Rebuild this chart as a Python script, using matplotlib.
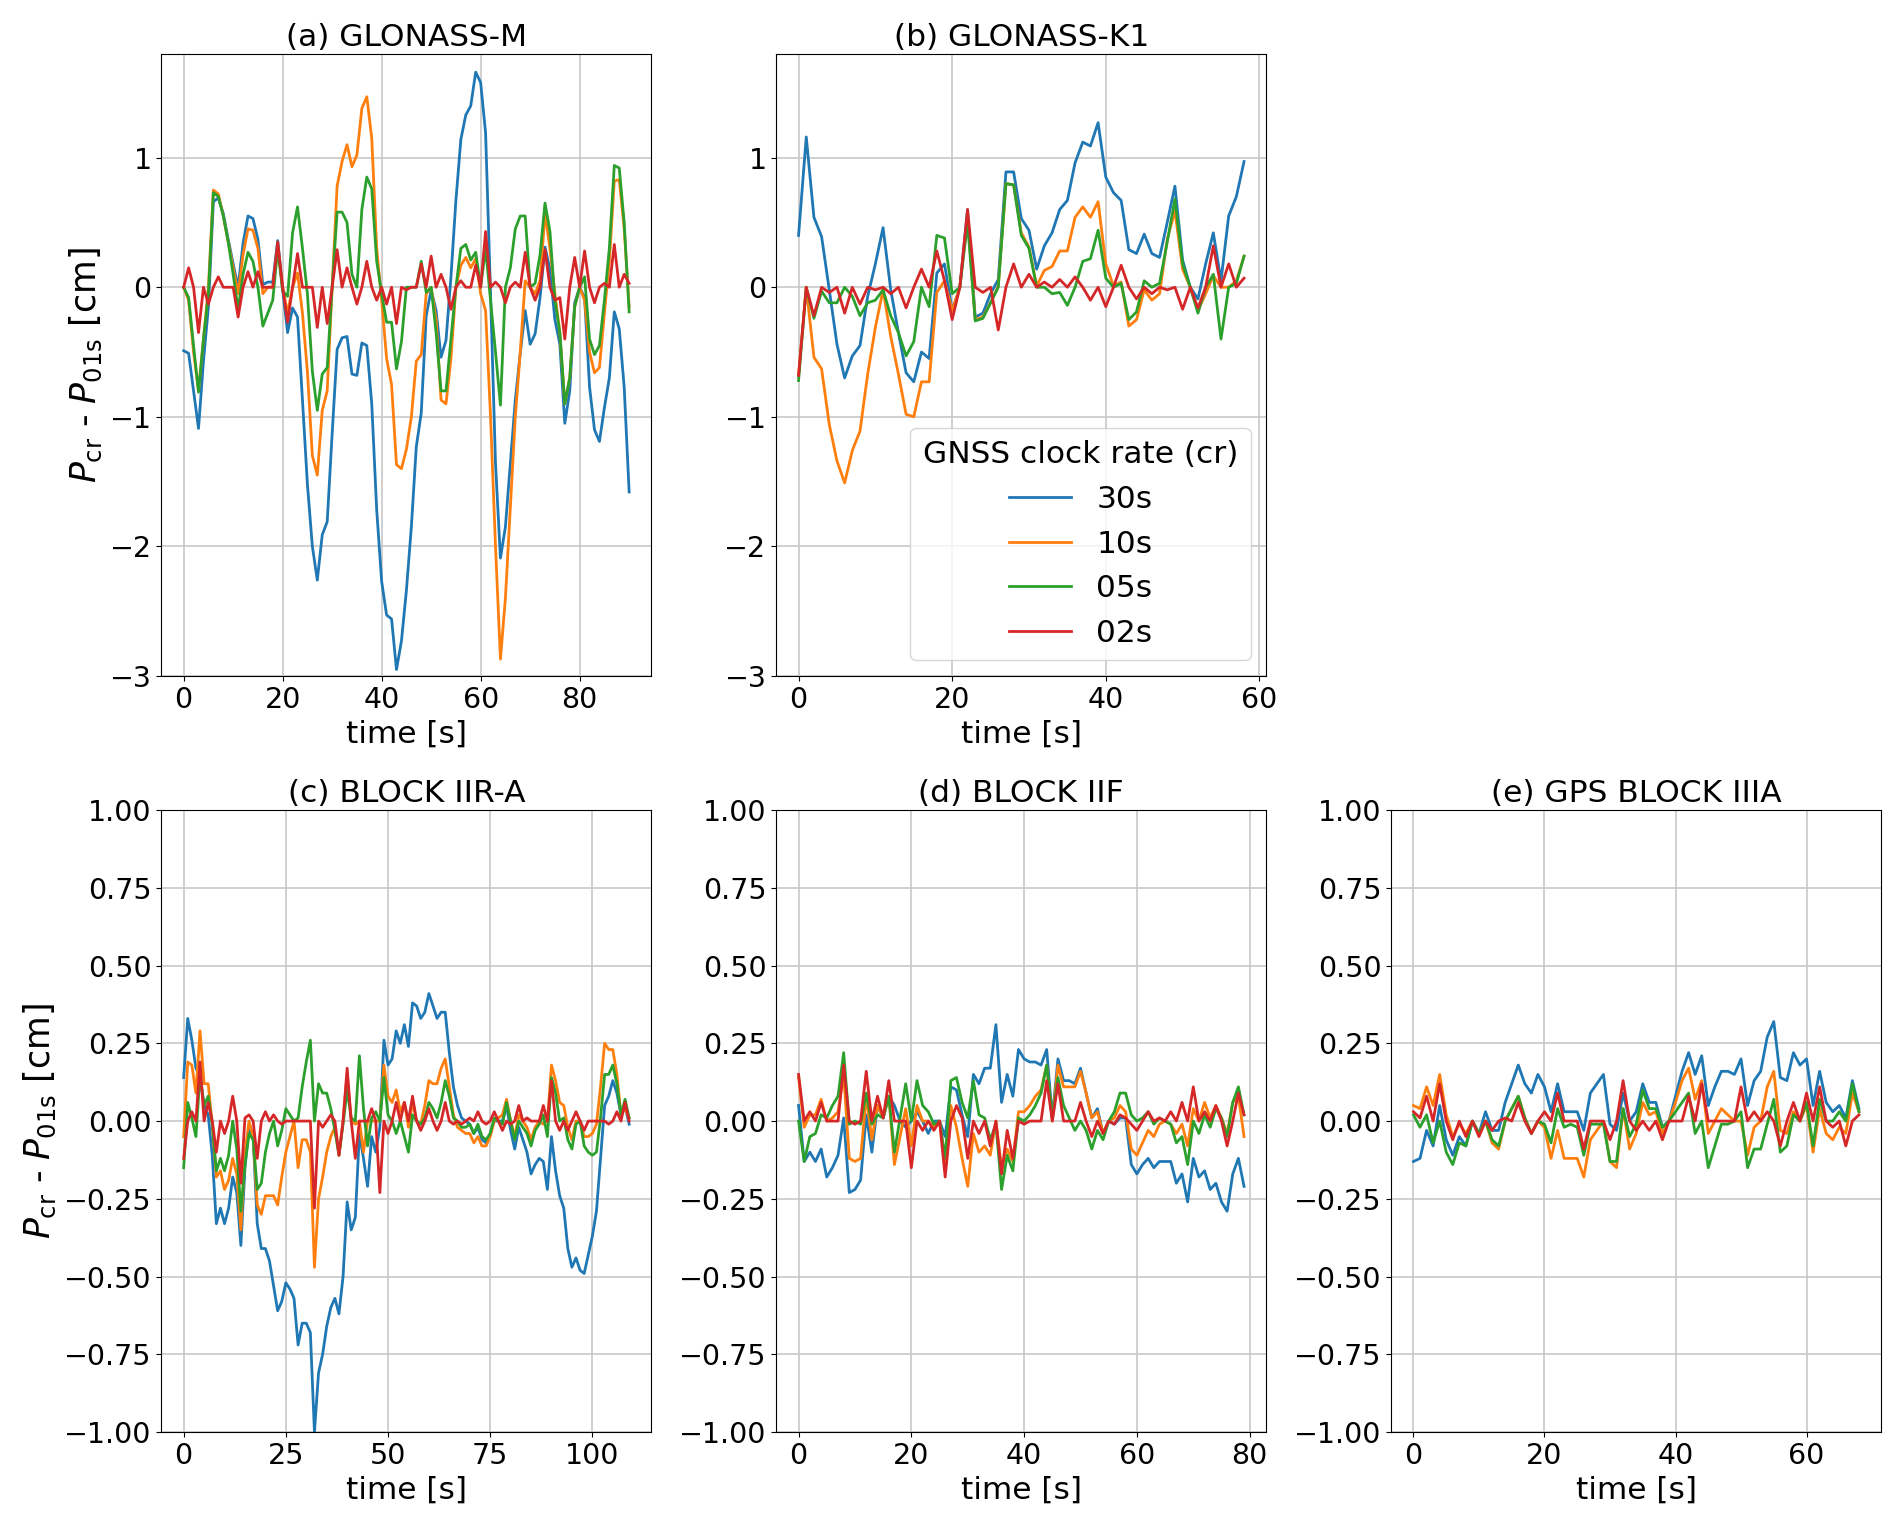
import numpy as np
import matplotlib
matplotlib.use("Agg")
import matplotlib.pyplot as plt
from matplotlib.ticker import MultipleLocator

# Legend labels (GNSS clock rate)
rates = ['30s', '10s', '05s', '02s']

# (a) GLONASS-M, 1 s steps
a_30s = [-0.49, -0.51, -0.80, -1.09, -0.57, -0.15, 0.66, 0.69, 0.57, 0.37, 0.18, 0.0, 0.34, 0.55, 0.53, 0.37,
         0.02, 0.04, 0.04, 0.36, -0.02, -0.35, -0.16, -0.23, -0.87, -1.52, -2.0, -2.26, -1.91, -1.81, -1.13,
         -0.48, -0.39, -0.38, -0.67, -0.68, -0.43, -0.45, -0.9, -1.72, -2.27, -2.53, -2.56, -2.95, -2.73, -2.34,
         -1.85, -1.23, -0.97, -0.22, -0.02, -0.18, -0.54, -0.41, 0.08, 0.67, 1.14, 1.33, 1.4, 1.66, 1.58, 1.19,
         -0.05, -1.36, -2.09, -1.85, -1.36, -0.87, -0.51, -0.18, -0.44, -0.36, -0.08, 0.31, 0.14, -0.25, -0.44,
         -1.05, -0.8, -0.12, 0.0, -0.08, -0.77, -1.1, -1.19, -0.93, -0.7, -0.19, -0.32, -0.77, -1.58]
a_10s = [0.0, -0.1, -0.5, -0.8, -0.4, 0.0, 0.75, 0.72, 0.55, 0.35, 0.15, -0.05, 0.25, 0.45, 0.44, 0.3, -0.05,
         0.0, 0.0, 0.3, 0.0, -0.2, 0.0, 0.11, -0.2, -0.65, -1.3, -1.45, -0.95, -0.8, 0.0, 0.78, 0.97, 1.1, 0.93,
         1.02, 1.38, 1.47, 1.15, 0.3, -0.1, -0.55, -0.75, -1.37, -1.4, -1.25, -1.0, -0.57, -0.52, -0.05, 0.0,
         -0.25, -0.87, -0.9, -0.55, 0.0, 0.17, 0.23, 0.15, 0.22, -0.05, -0.18, -1.0, -2.0, -2.87, -2.4, -1.7,
         -1.0, -0.5, 0.05, 0.0, -0.05, 0.05, 0.57, 0.3, -0.05, -0.35, -0.9, -0.7, -0.15, 0.0, -0.1, -0.5, -0.66,
         -0.62, -0.2, 0.2, 0.82, 0.83, 0.45, -0.15]
a_05s = [0.0, -0.08, -0.45, -0.81, -0.4, -0.05, 0.73, 0.7, 0.55, 0.35, 0.1, -0.17, 0.1, 0.27, 0.2, 0.0, -0.3,
         -0.2, -0.1, 0.3, -0.03, -0.07, 0.42, 0.62, 0.3, -0.05, -0.65, -0.95, -0.67, -0.62, 0.0, 0.58, 0.58,
         0.5, 0.1, 0.0, 0.6, 0.85, 0.76, 0.2, -0.05, -0.27, -0.27, -0.63, -0.42, 0.0, 0.0, 0.0, 0.2, -0.04, 0.0,
         -0.35, -0.8, -0.8, -0.4, 0.0, 0.3, 0.33, 0.21, 0.27, 0.0, 0.3, -0.1, -0.5, -0.91, 0.0, 0.15, 0.45,
         0.55, 0.55, 0.0, 0.03, 0.25, 0.65, 0.43, -0.1, -0.35, -0.9, -0.7, -0.15, 0.0, 0.08, -0.4, -0.52, -0.45,
         -0.1, 0.3, 0.94, 0.92, 0.5, -0.19]
a_02s = [0.0, 0.15, 0.0, -0.35, 0.0, -0.13, 0.0, 0.08, 0.0, 0.0, 0.0, -0.23, 0.0, 0.12, 0.0, 0.12, 0.0, 0.0,
         0.0, 0.35, 0.0, -0.27, 0.0, 0.26, 0.0, 0.0, 0.0, -0.31, 0.0, -0.28, 0.0, 0.29, 0.0, 0.15, 0.0, -0.13,
         0.0, 0.2, 0.0, -0.1, 0.0, -0.13, 0.0, -0.28, 0.0, -0.02, 0.0, 0.0, 0.18, 0.0, 0.24, 0.0, 0.1, 0.0,
         -0.17, 0.0, 0.05, 0.0, 0.0, 0.17, 0.0, 0.43, 0.0, 0.04, 0.0, -0.12, 0.0, 0.04, 0.0, 0.27, 0.0, -0.1,
         0.0, 0.29, 0.0, -0.1, -0.08, -0.4, 0.0, 0.23, 0.0, 0.28, 0.0, -0.12, 0.0, 0.03, 0.0, 0.33, 0.0, 0.1,
         0.03]

# (b) GLONASS-K1
b_30s = [0.4, 1.16, 0.54, 0.39, -0.02, -0.44, -0.7, -0.53, -0.45, -0.07, 0.18, 0.46, -0.02, -0.35, -0.66,
         -0.73, -0.5, -0.55, 0.11, 0.18, -0.18, 0.0, 0.6, -0.23, -0.2, -0.05, 0.06, 0.89, 0.89, 0.53, 0.44,
         0.14, 0.32, 0.42, 0.6, 0.67, 0.96, 1.12, 1.09, 1.27, 0.85, 0.73, 0.67, 0.29, 0.26, 0.41, 0.26, 0.23,
         0.5, 0.78, 0.21, 0.0, -0.09, 0.18, 0.42, 0.05, 0.55, 0.7, 0.97]
b_10s = [-0.68, 0.0, -0.54, -0.63, -1.06, -1.34, -1.51, -1.26, -1.11, -0.67, -0.31, -0.02, -0.38, -0.67,
         -0.98, -1.0, -0.73, -0.73, -0.04, 0.05, -0.18, 0.0, 0.54, -0.25, -0.23, -0.12, 0.01, 0.8, 0.79, 0.42,
         0.31, 0.01, 0.13, 0.16, 0.28, 0.28, 0.54, 0.62, 0.54, 0.66, 0.18, 0.01, 0.04, -0.3, -0.25, -0.02,
         -0.1, -0.05, 0.37, 0.59, 0.14, 0.0, -0.18, -0.05, 0.09, 0.0, 0.0, 0.05, 0.24]
b_05s = [-0.72, 0.0, -0.24, -0.03, -0.12, -0.12, 0.0, -0.07, -0.22, -0.12, -0.1, -0.02, -0.22, -0.35, -0.53,
         -0.42, 0.0, -0.15, 0.4, 0.38, -0.05, 0.0, 0.5, -0.26, -0.24, -0.12, 0.0, 0.8, 0.79, 0.4, 0.3, 0.0,
         0.0, -0.05, -0.04, -0.14, 0.0, 0.2, 0.22, 0.44, 0.07, 0.0, 0.03, -0.25, -0.19, 0.05, 0.0, 0.03, 0.35,
         0.68, 0.18, 0.0, -0.2, 0.0, 0.1, -0.4, 0.0, 0.03, 0.24]
b_02s = [-0.68, 0.0, -0.22, 0.0, -0.04, 0.0, -0.2, 0.0, -0.13, 0.0, -0.02, 0.0, -0.05, 0.0, -0.16, 0.0, 0.14,
         0.0, 0.28, 0.05, -0.25, 0.0, 0.6, 0.0, -0.04, 0.0, -0.33, 0.0, 0.18, 0.0, 0.1, 0.0, 0.04, 0.0, 0.06,
         0.0, 0.08, 0.0, -0.1, 0.0, -0.15, 0.0, 0.17, 0.0, -0.09, 0.0, -0.05, 0.0, -0.02, 0.0, -0.17, 0.0,
         -0.16, 0.0, 0.32, 0.0, 0.18, 0.0, 0.07]

# (c) BLOCK IIR-A
c_30s = [0.14, 0.33, 0.26, 0.17, 0.14, 0.05, 0.02, -0.11, -0.33, -0.28, -0.33, -0.28, -0.18, -0.23, -0.4,
         -0.15, -0.02, -0.05, -0.33, -0.41, -0.41, -0.45, -0.53, -0.61, -0.58, -0.52, -0.54, -0.57, -0.72,
         -0.65, -0.65, -0.68, -1.0, -0.81, -0.75, -0.66, -0.6, -0.57, -0.62, -0.5, -0.26, -0.35, -0.31, -0.04,
         -0.12, -0.21, -0.05, -0.1, -0.02, 0.26, 0.18, 0.2, 0.29, 0.25, 0.31, 0.24, 0.38, 0.37, 0.33, 0.35,
         0.41, 0.37, 0.33, 0.35, 0.35, 0.22, 0.11, 0.05, 0.01, 0.0, -0.01, -0.04, -0.02, -0.06, -0.07, -0.04,
         0.0, 0.0, 0.0, 0.05, -0.03, -0.09, -0.02, -0.06, -0.1, -0.17, -0.14, -0.12, -0.13, -0.22, -0.05,
         -0.16, -0.24, -0.28, -0.41, -0.47, -0.44, -0.48, -0.49, -0.43, -0.37, -0.29, -0.12, 0.05, 0.08, 0.13,
         0.09, 0.02, 0.05, -0.01]
c_10s = [-0.05, 0.19, 0.18, 0.09, 0.29, 0.12, 0.12, -0.01, -0.18, -0.16, -0.22, -0.19, -0.12, -0.17, -0.35,
         -0.1, 0.0, -0.05, -0.27, -0.3, -0.24, -0.24, -0.24, -0.27, -0.18, -0.1, -0.05, 0.0, -0.15, -0.06,
         -0.06, -0.1, -0.47, -0.25, -0.18, -0.1, -0.05, -0.02, -0.11, 0.0, 0.15, 0.0, -0.01, 0.0, -0.1, 0.0,
         0.0, 0.0, 0.0, 0.18, 0.08, 0.06, 0.1, 0.03, 0.06, -0.02, 0.06, 0.0, -0.01, 0.05, 0.13, 0.12, 0.12,
         0.17, 0.2, 0.11, 0.02, -0.02, -0.03, -0.04, -0.04, -0.07, -0.05, -0.08, -0.08, -0.05, 0.0, 0.01, 0.02,
         0.07, 0.0, -0.05, 0.02, 0.0, -0.02, -0.06, -0.02, 0.0, -0.01, 0.0, 0.18, 0.13, 0.06, 0.05, -0.02,
         -0.06, 0.0, 0.0, -0.05, -0.05, -0.04, -0.01, 0.11, 0.25, 0.23, 0.23, 0.15, 0.02, 0.04, 0.01]
c_05s = [-0.15, 0.06, 0.01, -0.05, 0.15, 0.05, 0.08, -0.01, -0.16, -0.12, -0.16, -0.11, 0.0, -0.09, -0.29,
         -0.14, -0.04, -0.06, -0.22, -0.2, -0.1, -0.04, 0.0, -0.08, -0.03, 0.04, 0.02, 0.0, 0.01, 0.11, 0.19,
         0.26, 0.0, 0.12, 0.09, 0.09, 0.04, -0.03, -0.11, -0.01, 0.1, 0.01, 0.0, 0.21, 0.04, -0.08, 0.01, 0.03,
         0.0, 0.14, 0.02, 0.0, -0.04, 0.0, -0.05, -0.1, 0.02, 0.0, -0.01, 0.01, 0.06, 0.04, 0.01, 0.06, 0.13,
         0.08, 0.01, 0.0, -0.02, -0.02, -0.01, -0.04, -0.01, -0.05, -0.06, -0.04, 0.01, 0.0, -0.01, 0.06, 0.0,
         -0.06, 0.0, -0.02, -0.04, -0.08, -0.03, -0.01, 0.02, -0.05, 0.14, 0.09, 0.0, 0.01, -0.06, -0.09,
         -0.01, 0.0, -0.08, -0.1, -0.11, -0.1, 0.01, 0.15, 0.15, 0.18, 0.12, 0.02, 0.07, 0.01]
c_02s = [-0.12, 0.0, 0.03, 0.0, 0.19, 0.0, 0.06, 0.0, -0.1, 0.0, -0.04, 0.0, 0.08, 0.0, -0.2, 0.01, 0.02,
         0.0, -0.12, 0.0, 0.03, 0.0, 0.02, 0.0, -0.01, 0.0, 0.0, 0.0, 0.0, 0.0, 0.0, 0.0, -0.28, 0.0, -0.02,
         0.0, 0.02, 0.0, -0.11, 0.0, 0.17, 0.0, -0.12, 0.0, 0.0, 0.0, 0.04, 0.0, -0.23, 0.0, -0.04, 0.0, 0.06,
         0.0, 0.06, 0.0, 0.08, 0.0, -0.03, 0.0, 0.04, 0.0, -0.03, 0.0, 0.06, 0.0, -0.01, 0.0, -0.01, 0.0,
         0.01, 0.0, 0.03, 0.0, -0.01, 0.0, 0.03, 0.0, -0.03, 0.0, -0.01, 0.0, 0.05, 0.0, 0.01, 0.0, 0.0, 0.0,
         0.05, 0.0, 0.13, 0.0, -0.03, 0.0, -0.03, 0.0, 0.03, 0.0, -0.03, 0.0, 0.0, 0.0, 0.0, 0.0, -0.01, 0.0,
         0.03, 0.0, 0.06, 0.0]

# (d) BLOCK IIF
d_30s = [0.05, -0.13, -0.1, -0.13, -0.09, -0.18, -0.15, -0.11, 0.01, -0.23, -0.22, -0.19, 0.02, -0.1, 0.05,
         0.01, 0.08, 0.05, 0.0, -0.02, 0.0, 0.03, 0.0, -0.04, 0.0, 0.0, -0.05, 0.11, 0.1, 0.02, -0.05, 0.15,
         0.12, 0.17, 0.17, 0.31, 0.06, 0.15, 0.08, 0.23, 0.2, 0.19, 0.19, 0.18, 0.23, 0.01, 0.2, 0.13, 0.13,
         0.12, 0.17, 0.09, 0.01, 0.04, -0.04, 0.0, -0.01, 0.01, 0.01, -0.14, -0.17, -0.14, -0.12, -0.15,
         -0.13, -0.13, -0.13, -0.2, -0.17, -0.26, -0.12, -0.18, -0.16, -0.22, -0.2, -0.26, -0.29, -0.17,
         -0.12, -0.21]
d_10s = [0.14, -0.02, 0.02, 0.02, 0.07, 0.0, 0.01, 0.03, 0.15, -0.12, -0.13, -0.12, 0.08, -0.06, 0.05, 0.01,
         0.08, -0.14, -0.05, 0.04, -0.08, 0.05, 0.0, 0.0, -0.02, 0.0, -0.13, 0.05, -0.02, -0.12, -0.21, -0.04,
         -0.1, -0.08, -0.11, 0.0, -0.15, -0.09, -0.13, 0.03, 0.03, 0.05, 0.08, 0.1, 0.18, 0.0, 0.18, 0.11, 0.11,
         0.11, 0.16, 0.09, 0.01, 0.03, -0.04, 0.0, 0.01, 0.05, 0.03, -0.09, -0.11, -0.07, -0.03, -0.05, -0.01,
         0.0, -0.01, -0.04, -0.01, -0.08, 0.04, 0.0, 0.06, 0.01, 0.05, 0.01, -0.04, 0.06, 0.08, -0.05]
d_05s = [0.0, -0.13, -0.05, -0.04, 0.02, 0.01, 0.05, 0.08, 0.22, -0.01, 0.0, -0.01, 0.09, -0.01, 0.02, 0.01,
         0.08, -0.1, 0.01, 0.12, 0.0, 0.13, 0.05, 0.03, -0.01, 0.0, -0.12, 0.13, 0.14, 0.06, 0.01, 0.13, 0.02,
         0.01, -0.06, -0.01, -0.22, -0.11, -0.16, 0.01, 0.0, 0.02, 0.05, 0.09, 0.18, 0.01, 0.14, 0.05, 0.01,
         -0.03, 0.0, -0.03, -0.09, -0.03, -0.06, 0.0, 0.03, 0.09, 0.09, 0.02, 0.0, 0.01, 0.03, -0.01, 0.01, 0.0,
         -0.01, -0.07, -0.05, -0.14, 0.0, -0.04, 0.02, -0.02, 0.04, 0.01, -0.05, 0.06, 0.11, 0.02]
d_02s = [0.15, 0.0, 0.03, 0.0, 0.06, 0.0, 0.0, 0.0, 0.18, 0.0, -0.01, 0.0, 0.16, 0.0, 0.08, 0.01, 0.13, 0.0,
         0.0, 0.0, -0.15, 0.0, -0.03, 0.0, -0.03, 0.0, -0.18, 0.0, 0.05, 0.01, -0.12, 0.0, -0.04, 0.0, -0.08,
         0.0, -0.17, -0.03, -0.12, 0.0, -0.01, 0.0, 0.0, 0.0, 0.13, 0.0, 0.12, 0.0, 0.0, 0.0, 0.06, 0.0, -0.05,
         0.0, -0.04, 0.0, -0.01, 0.02, 0.01, -0.01, -0.03, 0.0, 0.03, 0.0, 0.01, 0.0, 0.03, 0.0, 0.06, 0.0,
         0.11, 0.0, 0.03, 0.0, 0.05, 0.0, -0.08, 0.0, 0.09, 0.02]

# (e) GPS BLOCK IIIA
e_30s = [-0.13, -0.12, -0.03, -0.08, 0.05, -0.06, -0.11, -0.05, -0.08, 0.0, -0.04, 0.03, -0.03, -0.03, 0.06,
         0.12, 0.18, 0.12, 0.09, 0.15, 0.11, 0.03, 0.12, 0.03, 0.03, 0.03, -0.03, 0.09, 0.12, 0.15, -0.01,
         -0.03, 0.09, 0.0, 0.03, 0.12, 0.06, 0.06, -0.02, 0.0, 0.08, 0.16, 0.22, 0.15, 0.21, 0.05, 0.11, 0.16,
         0.16, 0.15, 0.2, 0.05, 0.13, 0.16, 0.27, 0.32, 0.14, 0.13, 0.22, 0.18, 0.2, 0.05, 0.16, 0.06, 0.03,
         0.05, 0.01, 0.13, 0.04]
e_10s = [0.05, 0.04, 0.11, 0.05, 0.15, 0.02, -0.05, -0.01, -0.04, 0.0, -0.04, 0.0, -0.07, -0.09, 0.0, 0.04,
         0.08, 0.01, -0.04, 0.0, -0.02, -0.12, -0.03, -0.12, -0.12, -0.12, -0.18, -0.06, -0.03, 0.0, -0.13,
         -0.15, 0.04, -0.09, -0.04, 0.06, 0.02, 0.03, -0.04, 0.0, 0.06, 0.13, 0.17, 0.07, 0.13, -0.04, 0.0,
         0.04, 0.02, 0.0, 0.0, -0.11, -0.02, 0.0, 0.11, 0.16, -0.03, -0.04, 0.03, 0.0, 0.05, -0.1, 0.04, -0.04,
         -0.06, -0.02, -0.04, 0.09, 0.03]
e_05s = [0.02, -0.02, 0.02, -0.07, 0.0, -0.1, -0.14, -0.07, -0.08, 0.0, -0.04, 0.0, -0.06, -0.08, 0.0, 0.04,
         0.08, 0.01, -0.04, 0.0, -0.01, -0.07, 0.04, -0.02, -0.01, -0.02, -0.11, -0.01, -0.01, -0.01, -0.13,
         -0.13, 0.04, -0.05, -0.01, 0.1, 0.04, 0.04, -0.02, 0.0, 0.03, 0.06, 0.09, -0.04, 0.0, -0.15, -0.08,
         -0.01, -0.01, 0.0, 0.03, -0.15, -0.09, -0.09, -0.01, 0.07, -0.1, -0.08, 0.02, 0.0, 0.06, -0.08, 0.07,
         0.0, 0.0, 0.03, 0.0, 0.12, 0.03]
e_02s = [0.03, 0.01, 0.08, 0.0, 0.12, 0.0, -0.06, 0.0, -0.05, 0.0, -0.05, 0.0, -0.03, 0.0, 0.01, 0.0, 0.06,
         0.0, -0.04, 0.0, 0.03, 0.0, 0.09, 0.0, 0.0, 0.0, -0.09, 0.0, 0.0, 0.0, -0.06, 0.0, 0.13, 0.0, -0.03,
         0.0, -0.03, 0.0, -0.06, 0.0, 0.0, 0.0, 0.08, 0.0, 0.12, 0.0, 0.0, 0.0, 0.0, 0.0, 0.11, 0.0, 0.03,
         0.0, 0.03, 0.0, -0.08, 0.0, 0.06, 0.0, 0.09, 0.0, 0.11, 0.0, -0.02, 0.0, -0.08, 0.0, 0.02]

panels = [
    ('(a) GLONASS-M', [a_30s, a_10s, a_05s, a_02s]),
    ('(b) GLONASS-K1', [b_30s, b_10s, b_05s, b_02s]),
    ('(c) BLOCK IIR-A', [c_30s, c_10s, c_05s, c_02s]),
    ('(d) BLOCK IIF', [d_30s, d_10s, d_05s, d_02s]),
    ('(e) GPS BLOCK IIIA', [e_30s, e_10s, e_05s, e_02s]),
]

fig = plt.figure(figsize=(18.92, 15.17), dpi=100)
w = 0.259
h = 0.41
pos = [
    [0.0853, 0.5544, w, h],
    [0.4103, 0.5544, w, h],
    [0.0853, 0.056, w, h],
    [0.4103, 0.056, w, h],
    [0.7353, 0.056, w, h],
]

ylabel = r'$P_{\rm cr}$ - $P_{\rm 01s}$ [cm]'

for k, (title, series) in enumerate(panels):
    ax = fig.add_axes(pos[k])
    for s, lab in zip(series, rates):
        ax.plot(np.arange(len(s)), s, linewidth=2.0, label=lab)
    ax.set_title(title, fontsize=22.5)
    ax.set_xlabel('time [s]', fontsize=22.5)
    ax.grid(True, color='#c8c8c8', linewidth=1.2)
    ax.tick_params(labelsize=20.5)
    if k < 2:
        ax.set_ylim(-3, 1.8)
        ax.set_yticks([-3, -2, -1, 0, 1])
    else:
        ax.set_ylim(-1, 1)
    if k == 2:
        ax.xaxis.set_major_locator(MultipleLocator(25))
    if k in (0, 2):
        ax.set_ylabel(ylabel, fontsize=25)
    if k == 1:
        ax.legend(title='GNSS clock rate (cr)', loc='lower right', fontsize=22.5,
                  title_fontsize=22.5)

fig.savefig('out.png', dpi=100)
